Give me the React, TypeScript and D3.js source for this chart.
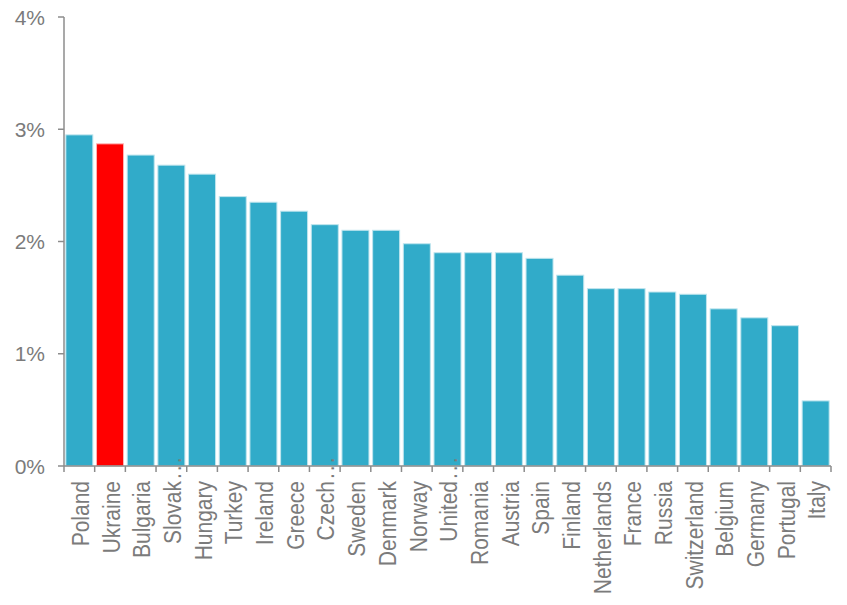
import { useEffect, useRef } from "react"
import * as d3 from "d3"

const countries = [
  "Poland", "Ukraine", "Bulgaria", "Slovak", "Hungary", "Turkey", "Ireland", "Greece",
  "Czech", "Sweden", "Denmark", "Norway", "United", "Romania", "Austria", "Spain",
  "Finland", "Netherlands", "France", "Russia", "Switzerland", "Belgium", "Germany",
  "Portugal", "Italy",
]
const truncated = ["Slovak", "Czech", "United"]
const values = [
  2.95, 2.87, 2.77, 2.68, 2.6, 2.4, 2.35, 2.27, 2.15, 2.1, 2.1, 1.98, 1.9, 1.9, 1.9,
  1.85, 1.7, 1.58, 1.58, 1.55, 1.53, 1.4, 1.32, 1.25, 0.58,
]
const highlight = "Ukraine"
const yTicks = [0, 1, 2, 3, 4]

export default function App() {
  const svgRef = useRef<SVGSVGElement>(null)

  useEffect(() => {
    if (!svgRef.current) return
    const svg = d3.select(svgRef.current)
    svg.selectAll("*").remove()

    const grey = "#7b7b7b"
    const axisColor = "#8c8c8c"
    const font = "Liberation Sans, Arial, sans-serif"
    const left = 64
    const right = 831
    const top = 17
    const bottom = 466

    const x = d3.scaleBand<string>().domain(countries).range([left, right]).paddingInner(0.12).paddingOuter(0.06)
    const y = d3.scaleLinear().domain([0, 4]).range([bottom, top])

    // bars
    svg
      .append("g")
      .selectAll("rect")
      .data(countries)
      .join("rect")
      .attr("x", (d) => x(d)!)
      .attr("y", (d, i) => y(values[i]))
      .attr("width", x.bandwidth())
      .attr("height", (d, i) => bottom - y(values[i]))
      .attr("fill", (d) => (d === highlight ? "#ff0000" : "#31abc9"))
      .attr("stroke", (d) => (d === highlight ? "#ffb3b3" : "#bfe5ee"))
      .attr("stroke-width", 1)

    // y axis
    const yAxis = svg.append("g")
    yAxis
      .append("line")
      .attr("x1", left)
      .attr("x2", left)
      .attr("y1", top)
      .attr("y2", bottom)
      .attr("stroke", axisColor)
      .attr("stroke-width", 1.5)
    yTicks.forEach((t) => {
      yAxis
        .append("line")
        .attr("x1", left - 6)
        .attr("x2", left)
        .attr("y1", y(t))
        .attr("y2", y(t))
        .attr("stroke", axisColor)
        .attr("stroke-width", 1.5)
      yAxis
        .append("text")
        .attr("x", 45)
        .attr("y", y(t))
        .attr("dy", "0.36em")
        .attr("text-anchor", "end")
        .attr("fill", grey)
        .style("font-family", font)
        .style("font-size", "21px")
        .text(`${t}%`)
    })

    // x axis
    const xAxis = svg.append("g")
    xAxis
      .append("line")
      .attr("x1", left)
      .attr("x2", right)
      .attr("y1", bottom)
      .attr("y2", bottom)
      .attr("stroke", axisColor)
      .attr("stroke-width", 1.5)
    const step = x.step()
    d3.range(countries.length + 1).forEach((i) => {
      const px = left + i * step
      xAxis
        .append("line")
        .attr("x1", px)
        .attr("x2", px)
        .attr("y1", bottom)
        .attr("y2", bottom + 6)
        .attr("stroke", axisColor)
        .attr("stroke-width", 1.5)
    })

    countries.forEach((c) => {
      const cx = x(c)! + x.bandwidth() / 2
      const t = xAxis
        .append("text")
        .attr("transform", `translate(${cx}, 481) rotate(-90) scale(1, 1.1)`)
        .attr("dy", "0.42em")
        .attr("text-anchor", "end")
        .attr("fill", grey)
        .style("font-family", font)
        .style("font-size", "21px")
      t.append("tspan").text(c)
      if (truncated.includes(c)) {
        t.append("tspan")
          .attr("x", 2)
          .attr("text-anchor", "start")
          .style("letter-spacing", "2px")
          .text("...")
      }
    })
  }, [])

  return (
    <svg
      ref={svgRef}
      width={847}
      height={605}
      style={{ position: "absolute", left: 0, top: 0, background: "#fff" }}
    ></svg>
  )
}
